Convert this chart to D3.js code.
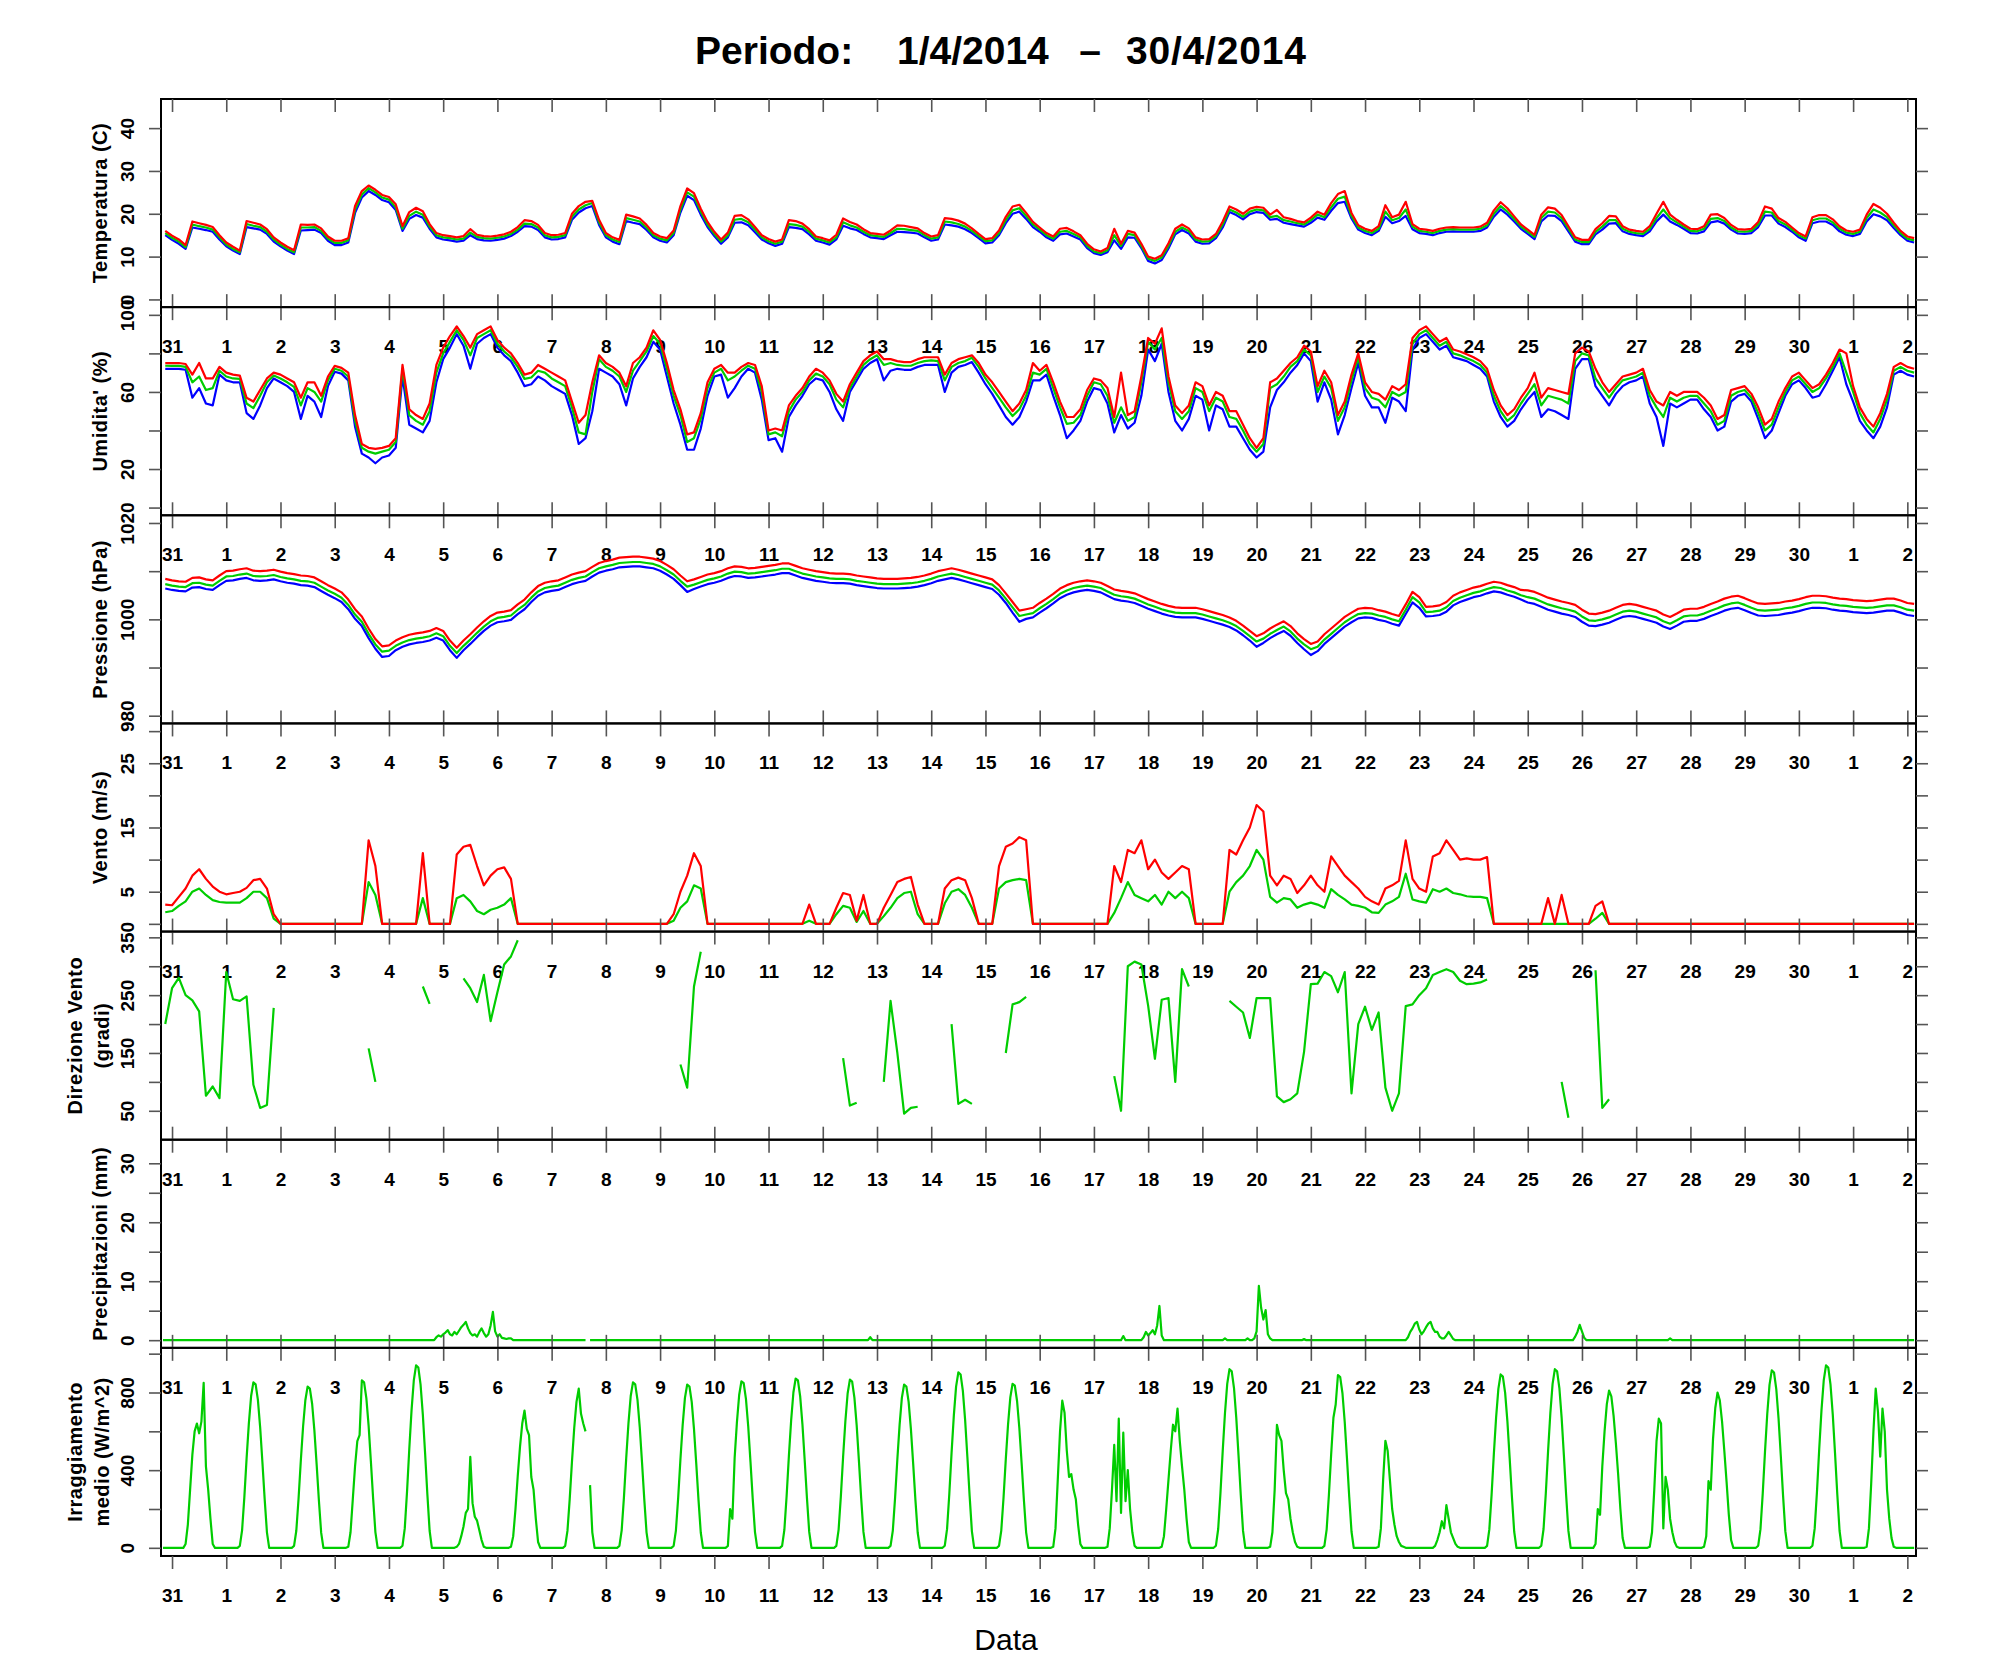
<!DOCTYPE html>
<html>
<head>
<meta charset="utf-8">
<script src="https://cdn.jsdelivr.net/npm/d3@7"></script>
<style>
  body { margin: 0; background: #fff; }
  svg { display: block; }
</style>
</head>
<body>
<div id="chart"></div>
<script>
const _ = null;

// x axis: one tick per day, 31 Mar .. 2 May
const dayLabels = ["31","1","2","3","4","5","6","7","8","9","10","11","12","13","14","15",
  "16","17","18","19","20","21","22","23","24","25","26","27","28","29","30","1","2"];

// 3-hourly series, first sample 30/3 21:00, then one row per day (00,03,...,21)
const tempMax = [16.0,
  14.9,14.0,12.7,18.2,17.8,17.4,16.9,15.0,
  13.3,12.3,11.4,18.3,17.9,17.5,16.4,14.5,
  13.3,12.3,11.5,17.5,17.4,17.5,16.6,14.7,
  13.7,13.7,14.3,21.8,25.3,26.6,25.6,24.4,
  23.9,22.2,17.1,20.4,21.4,20.6,17.6,15.5,
  15.0,14.8,14.5,14.8,16.4,15.1,14.8,14.7,
  14.9,15.2,15.8,16.9,18.5,18.3,17.4,15.5,
  15.0,15.1,15.5,20.0,21.8,22.8,23.0,18.6,
  15.5,14.5,13.9,19.8,19.4,18.9,17.4,15.5,
  14.7,14.3,16.1,21.8,25.9,24.8,21.2,18.1,
  15.8,14.0,15.6,19.5,19.7,18.7,16.9,15.0,
  14.1,13.5,14.0,18.5,18.3,17.7,16.4,14.7,
  14.3,13.8,15.1,18.9,18.1,17.5,16.4,15.5,
  15.3,15.1,16.1,17.3,17.2,16.9,16.6,15.5,
  14.7,15.0,19.0,18.8,18.4,17.7,16.6,15.3,
  14.1,14.3,16.1,19.3,21.7,22.1,20.2,18.1,
  16.8,15.5,14.7,16.5,16.7,15.9,15.0,13.0,
  11.7,11.2,12.0,16.5,13.0,16.0,15.6,13.0,
  10.0,9.5,10.3,13.1,16.5,17.5,16.6,14.5,
  14.0,14.1,15.3,18.2,21.7,21.0,20.0,21.2,
  21.6,21.4,19.8,20.9,19.2,18.8,18.3,18.0,
  19.1,20.5,19.8,22.5,24.6,25.3,20.2,17.3,
  16.5,16.0,17.1,22.0,19.2,19.8,22.8,17.6,
  16.5,16.3,16.0,16.5,16.8,16.9,16.8,16.8,
  16.8,17.0,17.9,20.8,22.7,21.3,19.4,17.5,
  16.3,15.1,19.8,21.5,21.2,19.7,17.1,14.5,
  13.9,13.9,16.4,17.8,19.5,19.4,17.1,16.3,
  16.0,15.8,17.1,20.0,22.8,19.8,18.6,17.5,
  16.5,16.4,17.1,19.8,19.9,19.0,17.4,16.4,
  16.3,16.5,18.1,21.7,21.2,19.0,18.1,16.8,
  15.5,14.7,19.2,19.7,19.7,18.7,17.1,16.1,
  15.8,16.3,19.8,22.3,21.4,20.0,17.9,16.0,
  14.7,14.3];

const tempMed = [15.5,
  14.4,13.5,12.2,17.5,17.1,16.8,16.3,14.5,
  12.8,11.8,11.0,17.6,17.2,16.9,15.8,14.0,
  12.8,11.8,11.0,16.8,16.8,16.9,16.0,14.2,
  13.2,13.2,13.8,21.0,24.5,26.0,25.0,23.8,
  23.3,21.5,16.5,19.5,20.5,19.8,17.0,15.0,
  14.5,14.3,14.0,14.2,15.6,14.6,14.3,14.2,
  14.4,14.7,15.3,16.3,17.7,17.6,16.8,15.0,
  14.5,14.6,15.0,19.3,21.0,22.0,22.5,18.0,
  15.0,14.0,13.4,19.0,18.6,18.2,16.8,15.0,
  14.2,13.8,15.5,21.0,25.0,24.0,20.5,17.5,
  15.3,13.5,15.0,18.6,18.8,18.0,16.3,14.5,
  13.6,13.0,13.5,17.6,17.4,17.0,15.8,14.2,
  13.8,13.3,14.5,18.0,17.3,16.8,15.8,15.0,
  14.8,14.6,15.5,16.5,16.4,16.2,16.0,15.0,
  14.2,14.5,18.2,18.0,17.6,17.0,16.0,14.8,
  13.6,13.8,15.5,18.5,20.8,21.3,19.5,17.5,
  16.3,15.0,14.2,15.8,16.0,15.3,14.5,12.5,
  11.2,10.8,11.5,15.0,12.5,15.3,15.0,12.5,
  9.5,9.0,9.8,12.5,15.8,16.8,16.0,14.0,
  13.5,13.6,14.8,17.5,21.0,20.3,19.3,20.5,
  21.0,20.8,19.2,19.5,18.5,18.2,17.8,17.5,
  18.5,19.8,19.2,21.5,23.5,24.0,19.5,16.8,
  16.0,15.5,16.5,20.5,18.5,19.0,21.0,17.0,
  16.0,15.8,15.5,16.0,16.3,16.4,16.3,16.3,
  16.3,16.5,17.3,20.0,21.8,20.5,18.8,17.0,
  15.8,14.6,19.0,20.5,20.3,19.0,16.5,14.0,
  13.4,13.4,15.8,17.0,18.5,18.5,16.5,15.8,
  15.5,15.3,16.5,19.0,21.0,19.0,18.0,17.0,
  16.0,15.9,16.5,18.8,19.0,18.3,16.8,15.9,
  15.8,16.0,17.5,20.5,20.3,18.3,17.5,16.3,
  15.0,14.2,18.5,18.9,18.9,18.0,16.5,15.6,
  15.3,15.8,19.0,21.0,20.3,19.2,17.3,15.5,
  14.2,13.8];

const tempMin = [15.0,
  13.9,13.0,11.8,16.8,16.5,16.2,15.8,14.0,
  12.4,11.4,10.6,16.9,16.6,16.3,15.3,13.5,
  12.4,11.4,10.6,16.1,16.2,16.3,15.5,13.7,
  12.7,12.7,13.3,20.2,23.8,25.3,24.4,23.2,
  22.7,20.9,16.0,18.8,19.7,19.1,16.5,14.5,
  14.0,13.8,13.5,13.7,15.0,14.1,13.8,13.7,
  13.9,14.2,14.8,15.8,17.1,17.0,16.2,14.5,
  14.0,14.1,14.5,18.6,20.3,21.3,21.8,17.4,
  14.5,13.5,12.9,18.3,17.9,17.6,16.2,14.5,
  13.7,13.3,15.0,20.3,24.2,23.2,19.8,16.9,
  14.8,13.0,14.5,17.9,18.0,17.3,15.7,14.0,
  13.1,12.5,13.0,16.9,16.7,16.4,15.2,13.7,
  13.3,12.8,14.0,17.2,16.6,16.2,15.3,14.5,
  14.3,14.1,15.0,15.8,15.7,15.6,15.4,14.5,
  13.7,14.0,17.5,17.3,17.0,16.4,15.5,14.3,
  13.1,13.3,15.0,17.8,20.0,20.5,18.8,16.9,
  15.8,14.5,13.7,15.2,15.4,14.7,14.0,12.0,
  10.8,10.4,11.0,13.8,11.8,14.5,14.4,12.0,
  9.0,8.4,9.2,11.9,15.2,16.2,15.4,13.5,
  13.0,13.1,14.3,16.8,20.4,19.7,18.7,19.9,
  20.4,20.2,18.6,18.8,17.9,17.6,17.3,17.0,
  17.9,19.1,18.6,20.7,22.5,22.8,18.9,16.3,
  15.5,15.0,16.0,19.3,17.8,18.3,19.5,16.4,
  15.5,15.3,15.0,15.5,15.8,15.9,15.8,15.8,
  15.8,16.0,16.8,19.3,21.0,19.8,18.2,16.5,
  15.3,14.1,18.2,19.6,19.5,18.3,15.9,13.5,
  12.9,12.9,15.2,16.3,17.7,17.8,15.9,15.3,
  15.0,14.8,15.9,18.2,19.8,18.2,17.4,16.5,
  15.5,15.4,15.9,18.0,18.3,17.7,16.3,15.4,
  15.3,15.5,16.9,19.6,19.6,17.7,16.9,15.8,
  14.5,13.7,17.8,18.2,18.2,17.4,15.9,15.1,
  14.8,15.3,18.2,19.9,19.4,18.5,16.7,15.0,
  13.7,13.3];

const humMax = [75,
  75,75,74.5,69,75,67,67,73,
  70,69,68.5,57,55,61,67,70,
  69,67,65,57,65,65,58,68,
  73.5,72.5,70,48,33,31,30.5,31,
  32,36,74,51,48,46,54,74,
  83,89,94,89,83,90,92,94,
  87,83,80,75,69,70,74,72,
  70,68,66,55,44,48,65,79,
  75,73,70,63,75,78,83,92,
  87,75,61,51,38,39,49,65,
  72,74,70,70,73,75,74,63,
  40,41,40,53,58,62,68,72,
  70,66,59,55,64,70,76,79,
  81,77,77,76,75.5,75.5,77,78,
  78,78,69,75,77,78,79,75,
  69,65,60,55,50,54,61,75,
  71,74,65,55,47,47,51,61,
  67,66,62,47,70,48,50,68,
  88,85,93,68,53,49,53,65,
  63,53,60,58,50,50,43,36,
  31,36,65,67,71,75,78,84,
  81,63,71,65,48,55,69,80,
  65,60,59,56,63,61,64,88,
  92,94,90,86,88,82,81,79.5,
  78,76,72,61,53,48,51,57,
  62,70,57,62,61,60,59,80,
  83,81,72,65,60,64,68,69,
  70,72,61,55,53,60,58,60,
  60,60,57,53,46,48,61,62,
  63,59,52,43,46,55,62,68,
  70,66,62,64,69,75,82,80,
  63,52,46,42,49,59,73,75,
  73,72];

const humMed = [73.6,
  73.5,73.5,73.0,65,68,61,62,71,
  68,67,66.8,54,51.6,58,65,68.5,
  67,65,62.6,53,62,60,55,66,
  72,71,68,45,31,29,28,29,
  30,34,72,48,45,43,50,70,
  80,86,92,87,79,88,90,92,
  85,81,78,73,66.8,67.5,71,70,
  67,65,63,52,39,38,60,77,
  73,71,68,60,71,76,81,89,
  85,72,58,48,34,36,46,62,
  70,72,66,68,71,73.6,72,60,
  38,39,37,50,56,60,66,69.5,
  68,64,56,52,62,68,74,77,
  79,74,75,74,73.6,73.6,75,76,
  76.4,76,66,73,75,76,77.7,73,
  67,62,57,52,47.5,51,58,70,
  69,72,62,52,43.4,44,48,58,
  65,64,58,44,52,45,47,65,
  86,82,88,65,50,46,50,62,
  60,50,57,55,47,46,40,33,
  29,33,62,64,68,73,76,82,
  79,60,68,62,45,52,66,78,
  62,57,55.8,52,60,58,60,85,
  90,92,88,84,86,80,79,77.5,
  76,74,70,58,50,45,48,54,
  59,64,53,58,57,56,54,76,
  80,79,67,62,57,62,66,67,
  68,70,58,52,47,57,55,57,
  58,58,54,50,43,45,58,60,
  61,57,49,40,43,52,60,66,
  68,64,60,62,67,73,80,70,
  60,49,43,39,46,56,71,73,
  71,70];

const humMin = [72,
  72,72,71.5,57,62,54,53,69,
  66,65,65,49,46,53,62,67,
  65,63,60,46,58,55,47,63,
  70.5,69.5,66,42,28,26,23,26,
  27,31,68,43,41,39,45,65,
  77,83,90,84,72,85,88,90,
  83,79,76,70,63,64,68,66,
  63,61,59,48,33,36,50,72,
  70,68,64,53,67,73,78,86,
  82,68,54,43,30,30,41,58,
  68,69,57,62,68,72,70,56,
  35,36,29,47,53,58,64,67,
  66,60,51,45,60,66,72,75,
  77,66,71,72,71.5,71.5,73,74,
  74,74,60,70,73,74,75.5,70,
  64,59,53,47,43,47,55,66,
  66,69,58,48,36,40,45,55,
  62,61,54,39,48,41,44,58,
  82,76,85,60,45,40,46,58,
  56,40,53,51,42,42,36,30,
  26,29,52,61,65,70,74,80,
  76,55,65,56,38,48,62,75,
  58,52,52,44,57,55,50,82,
  88,90,86,82,84,78,77,76,
  74,72,68,55,47,42,45,51,
  56,60,47,51,50,48,46,72,
  77,77,63,58,53,59,63,65,
  66,68,54,47,32,54,52,54,
  56,56,51,47,40,42,55,58,
  59,55,46,36,40,49,58,64,
  66,62,57,58,64,71,78,64,
  55,45,40,36,42,52,69,71,
  69,68];

const pressMax = [1008.4,
  1008.1,1007.9,1007.8,1008.6,1008.7,1008.3,1008.1,1009.1,
  1010.0,1010.1,1010.4,1010.6,1010.1,1010.0,1010.1,1010.3,
  1009.9,1009.6,1009.4,1009.1,1009.0,1008.7,1007.9,1007.1,
  1006.4,1005.6,1004.1,1002.1,1000.6,998.1,995.9,994.4,
  994.6,995.6,996.3,996.8,997.1,997.3,997.6,998.2,
  997.6,995.6,994.1,995.6,996.9,998.3,999.6,1000.7,
  1001.4,1001.6,1001.9,1003.1,1004.1,1005.6,1006.9,1007.6,
  1007.9,1008.1,1008.7,1009.3,1009.7,1010.0,1010.9,1011.7,
  1012.1,1012.4,1012.8,1012.9,1013.0,1013.0,1012.8,1012.6,
  1012.1,1011.3,1010.4,1009.1,1007.9,1008.3,1008.8,1009.3,
  1009.6,1010.0,1010.6,1011.0,1010.9,1010.6,1010.7,1010.9,
  1011.1,1011.3,1011.6,1011.6,1011.1,1010.6,1010.3,1010.0,
  1009.8,1009.6,1009.5,1009.5,1009.4,1009.1,1008.9,1008.7,
  1008.5,1008.4,1008.4,1008.4,1008.5,1008.6,1008.8,1009.1,
  1009.5,1010.0,1010.3,1010.6,1010.3,1009.9,1009.5,1009.1,
  1008.7,1008.3,1007.1,1005.4,1003.6,1001.8,1002.1,1002.4,
  1003.4,1004.3,1005.3,1006.4,1007.1,1007.6,1007.9,1008.1,
  1007.9,1007.6,1006.9,1006.2,1005.9,1005.7,1005.4,1004.8,
  1004.2,1003.7,1003.2,1002.8,1002.5,1002.4,1002.4,1002.4,
  1002.1,1001.7,1001.3,1000.9,1000.4,999.7,998.7,997.6,
  996.5,997.1,998.1,998.9,999.6,998.6,997.1,995.9,
  994.9,995.4,996.9,998.1,999.3,1000.5,1001.4,1002.2,
  1002.4,1002.3,1001.9,1001.6,1001.1,1000.7,1003.1,1005.7,
  1004.6,1002.6,1002.7,1002.9,1003.6,1004.9,1005.6,1006.1,
  1006.6,1006.9,1007.4,1007.8,1007.6,1007.1,1006.7,1006.1,
  1006.0,1005.7,1005.1,1004.5,1004.1,1003.7,1003.4,1003.0,
  1002.0,1001.2,1001.1,1001.4,1001.8,1002.4,1003.0,1003.2,
  1003.0,1002.6,1002.2,1001.8,1001.0,1000.5,1001.2,1002.0,
  1002.2,1002.2,1002.6,1003.2,1003.7,1004.3,1004.7,1004.9,
  1004.4,1003.8,1003.3,1003.2,1003.3,1003.4,1003.7,1003.9,
  1004.2,1004.6,1004.9,1004.9,1004.8,1004.5,1004.3,1004.2,
  1004.0,1003.9,1003.8,1003.9,1004.1,1004.3,1004.3,1003.9,
  1003.4,1003.2];

const pressMed = [1007.3,
  1007.0,1006.8,1006.7,1007.5,1007.6,1007.2,1007.0,1008.0,
  1008.9,1009.0,1009.3,1009.5,1009.0,1008.9,1009.0,1009.2,
  1008.8,1008.5,1008.3,1008.0,1007.9,1007.6,1006.8,1006.0,
  1005.3,1004.5,1003.0,1001.0,999.5,997.0,994.8,993.3,
  993.5,994.5,995.2,995.7,996.0,996.2,996.5,997.1,
  996.5,994.5,993.0,994.5,995.8,997.2,998.5,999.6,
  1000.3,1000.5,1000.8,1002.0,1003.0,1004.5,1005.8,1006.5,
  1006.8,1007.0,1007.6,1008.2,1008.6,1008.9,1009.8,1010.6,
  1011.0,1011.3,1011.7,1011.8,1011.9,1011.9,1011.7,1011.5,
  1011.0,1010.2,1009.3,1008.0,1006.8,1007.2,1007.7,1008.2,
  1008.5,1008.9,1009.5,1009.9,1009.8,1009.5,1009.6,1009.8,
  1010.0,1010.2,1010.5,1010.5,1010.0,1009.5,1009.2,1008.9,
  1008.7,1008.5,1008.4,1008.4,1008.3,1008.0,1007.8,1007.6,
  1007.4,1007.3,1007.3,1007.3,1007.4,1007.5,1007.7,1008.0,
  1008.4,1008.9,1009.2,1009.5,1009.2,1008.8,1008.4,1008.0,
  1007.6,1007.2,1006.0,1004.3,1002.5,1000.7,1001.0,1001.3,
  1002.3,1003.2,1004.2,1005.3,1006.0,1006.5,1006.8,1007.0,
  1006.8,1006.5,1005.8,1005.1,1004.8,1004.6,1004.3,1003.7,
  1003.1,1002.6,1002.1,1001.7,1001.4,1001.3,1001.3,1001.3,
  1001.0,1000.6,1000.2,999.8,999.3,998.6,997.6,996.5,
  995.4,996.0,997.0,997.8,998.5,997.5,996.0,994.8,
  993.8,994.3,995.8,997.0,998.2,999.4,1000.3,1001.1,
  1001.3,1001.2,1000.8,1000.5,1000.0,999.6,1002.0,1004.6,
  1003.5,1001.5,1001.6,1001.8,1002.5,1003.8,1004.5,1005.0,
  1005.5,1005.8,1006.3,1006.7,1006.5,1006.0,1005.6,1005.0,
  1004.6,1004.3,1003.7,1003.1,1002.7,1002.3,1002.0,1001.6,
  1000.6,999.8,999.7,1000.0,1000.4,1001.0,1001.6,1001.8,
  1001.6,1001.2,1000.8,1000.4,999.6,999.1,999.8,1000.6,
  1000.8,1000.8,1001.2,1001.8,1002.3,1002.9,1003.3,1003.5,
  1003.0,1002.4,1001.9,1001.8,1001.9,1002.0,1002.3,1002.5,
  1002.8,1003.2,1003.5,1003.5,1003.4,1003.1,1002.9,1002.8,
  1002.6,1002.5,1002.4,1002.5,1002.7,1002.9,1002.9,1002.5,
  1002.0,1001.8];

const pressMin = [1006.4,
  1006.1,1005.9,1005.8,1006.6,1006.7,1006.3,1006.1,1007.1,
  1008.0,1008.1,1008.4,1008.6,1008.1,1008.0,1008.1,1008.3,
  1007.9,1007.6,1007.4,1007.1,1007.0,1006.7,1005.9,1005.1,
  1004.4,1003.6,1002.1,1000.1,998.6,996.1,993.9,992.2,
  992.4,993.6,994.3,994.8,995.1,995.3,995.6,996.2,
  995.6,993.6,992.0,993.6,994.9,996.3,997.6,998.7,
  999.4,999.6,999.9,1001.1,1002.1,1003.6,1004.9,1005.6,
  1005.9,1006.1,1006.7,1007.3,1007.7,1008.0,1008.9,1009.7,
  1010.1,1010.4,1010.8,1010.9,1011.0,1011.0,1010.8,1010.6,
  1010.1,1009.3,1008.4,1007.1,1005.7,1006.3,1006.8,1007.3,
  1007.6,1008.0,1008.6,1009.0,1008.9,1008.6,1008.7,1008.9,
  1009.1,1009.3,1009.6,1009.6,1009.1,1008.6,1008.3,1008.0,
  1007.8,1007.6,1007.5,1007.5,1007.4,1007.1,1006.9,1006.7,
  1006.5,1006.4,1006.4,1006.4,1006.5,1006.6,1006.8,1007.1,
  1007.5,1008.0,1008.3,1008.6,1008.3,1007.9,1007.5,1007.1,
  1006.7,1006.3,1005.1,1003.4,1001.4,999.5,1000.1,1000.4,
  1001.4,1002.3,1003.3,1004.4,1005.1,1005.6,1005.9,1006.1,
  1005.9,1005.6,1004.9,1004.2,1003.9,1003.7,1003.4,1002.8,
  1002.2,1001.7,1001.2,1000.8,1000.5,1000.4,1000.4,1000.4,
  1000.1,999.7,999.3,998.9,998.4,997.7,996.7,995.6,
  994.3,995.1,996.1,996.9,997.6,996.6,995.1,993.8,
  992.6,993.4,994.9,996.1,997.3,998.5,999.4,1000.2,
  1000.4,1000.3,999.9,999.6,999.1,998.7,1001.1,1003.5,
  1002.4,1000.6,1000.7,1000.9,1001.6,1002.9,1003.6,1004.1,
  1004.6,1004.9,1005.4,1005.8,1005.6,1005.1,1004.7,1004.1,
  1003.5,1003.2,1002.6,1002.0,1001.6,1001.2,1000.9,1000.5,
  999.5,998.7,998.6,998.9,999.3,999.9,1000.5,1000.7,
  1000.5,1000.1,999.7,999.3,998.5,998.0,998.7,999.5,
  999.7,999.7,1000.1,1000.7,1001.2,1001.8,1002.2,1002.4,
  1001.9,1001.3,1000.8,1000.7,1000.8,1000.9,1001.2,1001.4,
  1001.7,1002.1,1002.4,1002.4,1002.3,1002.0,1001.8,1001.7,
  1001.5,1001.4,1001.3,1001.4,1001.6,1001.8,1001.8,1001.4,
  1000.9,1000.7];

const windMax = [3.0,
  2.9,4.2,5.5,7.5,8.5,7.0,5.8,5.0,
  4.6,4.8,5.0,5.6,6.8,7.0,5.5,1.5,
  0,0,0,0,0,0,0,0,
  0,0,0,0,0,13.0,9.0,0,
  0,0,0,0,0,11.0,0,0,
  0,0,10.8,12.0,12.3,9.0,6.0,7.5,
  8.5,8.8,7.0,0,0,0,0,0,
  0,0,0,0,0,0,0,0,
  0,0,0,0,0,0,0,0,
  0,0,1.5,5.0,7.5,11.0,9.0,0,
  0,0,0,0,0,0,0,0,
  0,0,0,0,0,0,3.0,0,
  0,0,2.5,4.8,4.5,0.5,4.5,0,
  0,2.5,4.5,6.5,7.0,7.3,3.0,0,
  0,0,5.5,6.8,7.2,6.8,4.0,0,
  0,0,9.0,12.0,12.5,13.5,13.0,0,
  0,0,0,0,0,0,0,0,
  0,0,0,9.0,6.5,11.5,11.0,13.0,
  8.5,10.0,8.0,7.0,8.0,9.0,8.5,0,
  0,0,0,0,11.5,10.8,13.0,15.0,
  18.5,17.5,7.5,6.0,7.5,7.0,4.8,6.0,
  7.5,6.0,5.0,10.5,9.0,7.5,6.5,5.5,
  4.2,3.5,3.0,5.5,6.0,6.7,13.0,7.0,
  5.5,5.0,10.5,11.0,13.0,11.5,10.0,10.2,
  10.0,10.0,10.4,0,0,0,0,0,
  0,0,0,4.0,0,4.5,0,0,
  0,0,2.8,3.5,0,0,0,0,
  0,0,0,0,0,0,0,0,
  0,0,0,0,0,0,0,0,
  0,0,0,0,0,0,0,0,
  0,0,0,0,0,0,0,0,
  0,0,0,0,0,0,0,0,
  0,0];

const windMed = [1.8,
  2.0,2.8,3.5,5.0,5.5,4.5,3.7,3.4,
  3.3,3.3,3.3,4.0,5.0,5.0,4.0,0.8,
  0,0,0,0,0,0,0,0,
  0,0,0,0,0,6.5,4.5,0,
  0,0,0,0,0,4.0,0,0,
  0,0,4.0,4.5,3.5,2.0,1.5,2.2,
  2.5,3.0,4.0,0,0,0,0,0,
  0,0,0,0,0,0,0,0,
  0,0,0,0,0,0,0,0,
  0,0,0.5,2.5,3.5,6.0,5.5,0,
  0,0,0,0,0,0,0,0,
  0,0,0,0,0,0,0.5,0,
  0,0,1.5,2.8,2.5,0.3,2.0,0,
  0,1.2,2.5,4.0,4.8,5.0,1.5,0,
  0,0,3.2,5.0,5.4,4.5,2.5,0,
  0,0,5.5,6.5,6.8,7.0,6.8,0,
  0,0,0,0,0,0,0,0,
  0,0,0,1.7,4.0,6.5,4.5,4.0,
  3.5,4.5,3.0,5.0,4.0,5.0,4.0,0,
  0,0,0,0,5.0,6.5,7.5,9.0,
  11.5,10.0,4.2,3.3,4.0,3.8,2.5,3.0,
  3.3,3.0,2.5,5.4,4.5,3.8,3.0,2.8,
  2.5,1.8,1.7,3.0,3.5,4.2,7.8,3.8,
  3.5,3.3,5.4,5.0,5.5,4.8,4.6,4.3,
  4.2,4.2,4.0,0,0,0,0,0,
  0,0,0,0,0,0,0,0,
  0,0,0.8,1.7,0,0,0,0,
  0,0,0,0,0,0,0,0,
  0,0,0,0,0,0,0,0,
  0,0,0,0,0,0,0,0,
  0,0,0,0,0,0,0,0,
  0,0,0,0,0,0,0,0,
  0,0];

// wind direction, missing when there is no wind
const windDir = [200,
  262,280,250,241,222,76,92,72,
  290,243,240,248,95,55,60,228,
  _,_,_,_,_,_,_,_,
  _,_,_,_,_,158,100,_,
  _,_,_,_,_,265,235,_,
  _,_,_,279,262,238,285,205,
  255,303,317,345,_,_,_,_,
  _,_,_,_,_,_,_,_,
  _,_,_,_,_,_,_,_,
  _,_,_,130,90,265,325,_,
  _,_,_,_,_,_,_,_,
  _,_,_,_,_,_,_,_,
  _,_,_,141,59,64,_,_,
  _,100,240,150,45,55,57,_,
  _,_,_,200,62,69,62,_,
  _,_,_,150,234,238,247,_,
  _,_,_,_,_,_,_,_,
  _,_,_,110,50,300,308,303,
  232,140,242,245,100,295,265,_,
  _,_,_,_,240,230,220,176,
  245,245,245,75,65,70,80,152,
  269,270,290,283,255,290,80,200,
  230,190,220,90,50,80,231,234,
  250,262,285,290,295,290,275,269,
  270,272,277,_,_,_,_,_,
  _,_,_,_,_,100,38,_,
  _,_,293,55,70,_,_,_,
  _,_,_,_,_,_,_,_,
  _,_,_,_,_,_,_,_,
  _,_,_,_,_,_,_,_,
  _,_,_,_,_,_,_,_,
  _,_,_,_,_,_,_,_,
  _,_];

// rain: hours counted from 31/3 00:00, zero elsewhere
const rainHour = [117,118,119,120,121,122,123,124,125,126,127,128,129,130,131,132,133,134,135,136,
  137,138,139,140,141,142,143,144,145,146,147,148,149,150,
  309, 421,
  430,431,432,433,434,435,436,437,438,
  466, 476,
  479,480,481,482,483,484,485,486,
  501,
  547,548,549,550,551,552,553,554,555,556,557,558,559,560,561,562,563,564,565,566,567,
  621,622,623,624,625,
  663];
const rainMm = [0.5,0.8,0.6,1.0,1.3,1.7,1.0,0.8,1.4,1.0,1.6,2.2,2.6,3.1,2.0,1.2,0.8,1.0,0.6,1.4,
  2.0,1.2,0.6,1.0,2.5,4.8,1.5,0.6,1.0,0.4,0.3,0.2,0.3,0.3,
  0.5, 0.7,
  0.5,1.4,0.8,1.2,1.7,1.0,2.5,5.8,0.8,
  0.3, 0.3,
  0.3,1.5,9.2,5.5,3.5,5.1,1.0,0.3,
  0.2,
  0.5,1.4,2.0,2.8,3.1,1.8,1.0,1.5,2.2,2.8,3.1,2.0,1.4,1.4,0.6,0.3,0.3,0.8,1.4,0.8,0.2,
  0.6,1.4,2.6,1.5,0.4,
  0.3];

// mean irradiance, hourly from 05:00 to 19:00 of each day (31/3 .. 1/5), zero at night
const irrFirstHour = 5;
const irrDays = [
  [0,20,120,300,480,600,640,590,650,850,420,300,150,20,0],
  [0,10,90,260,461,641,782,852,842,762,621,441,251,80,0],
  [0,10,88,254,450,625,760,830,820,742,605,430,244,78,0],
  [0,5,80,250,420,550,580,862,852,771,629,446,254,81,0],
  [0,11,100,288,509,708,862,940,929,840,686,487,276,88,0],
  [0,5,20,60,110,180,200,468,230,160,140,90,40,5,0],
  [0,5,60,200,370,520,640,707,613,580,365,300,150,30,0],
  [0,10,87,251,444,617,752,820,690,640,600,450,323,80,0],
  [0,10,90,260,461,641,782,852,842,762,621,441,251,80,0],
  [0,10,89,257,455,633,772,841,831,752,613,435,247,79,0],
  [0,10,200,150,464,646,787,858,848,767,626,444,252,81,0],
  [0,10,92,267,472,656,800,872,862,780,636,451,256,82,0],
  [0,10,92,265,469,652,795,866,856,774,632,448,255,82,0],
  [0,10,89,257,455,633,772,841,831,752,613,435,247,79,0],
  [0,11,96,277,489,681,830,904,893,808,659,468,266,85,0],
  [0,10,89,258,457,636,775,845,835,755,616,437,249,80,0],
  [0,5,100,350,600,758,696,500,365,380,300,250,120,20,0],
  [0,5,100,300,530,240,665,180,593,240,400,200,80,10,0],
  [0,5,60,200,350,500,634,600,717,550,420,300,150,30,0],
  [0,11,97,281,498,693,844,920,909,823,671,476,271,87,0],
  [0,5,80,300,634,580,551,400,282,250,150,80,30,5,0],
  [0,10,94,272,482,670,738,890,879,796,649,461,262,84,0],
  [0,5,100,350,551,500,350,200,120,60,30,10,5,0,0],
  [0,0,10,40,80,137,100,220,150,80,50,20,5,0,0],
  [0,10,95,273,483,672,819,893,882,798,651,462,263,84,0],
  [0,11,97,281,498,693,844,920,909,823,671,476,271,87,0],
  [0,20,200,170,420,600,740,810,780,680,540,380,200,50,0],
  [0,5,80,300,550,665,640,100,365,300,150,80,30,5,0],
  [0,5,60,344,300,560,720,800,760,650,500,340,170,40,0],
  [0,11,96,279,494,689,839,914,903,817,666,473,269,86,0],
  [0,11,100,288,509,708,862,940,929,840,686,487,276,88,0],
  [0,5,100,330,600,820,700,470,717,600,300,150,50,5,0]
];
// hour with no record in the hourly series
const gapHours = [184];

// y axis ticks and the ones carrying a label
const tempTicks = [0,10,20,30,40],          tempShown = [0,10,20,30,40];
const humTicks = [0,20,40,60,80,100],       humShown = [20,60,100];
const pressTicks = [980,990,1000,1010,1020], pressShown = [980,1000,1020];
const windTicks = [0,5,10,15,20,25,30],     windShown = [5,15,25];
const dirTicks = [50,100,150,200,250,300,350], dirShown = [50,150,250,350];
const rainTicks = [0,5,10,15,20,25,30],     rainShown = [0,10,20,30];
const irrTicks = [0,200,400,600,800,1000],  irrShown = [0,400,800];

// ---- layout ----
const W = 1991, H = 1680;
const FONT = "'Liberation Sans', Arial, Helvetica, sans-serif";
const RED = "#ff0000", GREEN = "#00cd00", BLUE = "#0000ff", TICK = "#555";
const plotLeft = 161, plotRight = 1916, plotTop = 99, panelH = 208.14;
const HOUR = 3600 * 1000;
const day0 = Date.UTC(2014, 2, 31);
const start3h = Date.UTC(2014, 2, 30, 21);

function every3h(values) {
    return values.map((v, i) => ({ t: new Date(start3h + i * 3 * HOUR), v: v }));
}

function hourly(valueAt) {
    return d3.range(-4, 772).map(h => ({
        t: new Date(day0 + h * HOUR),
        v: gapHours.includes(h) ? null : valueAt(h)
    }));
}

const rainSeries = hourly(h => {
    let i = rainHour.indexOf(h);
    return i >= 0 ? rainMm[i] : 0;
});

const irrSeries = hourly(h => {
    let day = Math.floor(h / 24), row = irrDays[day];
    if (!row) return 0;
    let j = h - day * 24 - irrFirstHour;
    return (j >= 0 && j < row.length) ? row[j] : 0;
});

const panels = [
    { title: ["Temperatura (C)"], domain: [-1.8, 46.8], ticks: tempTicks, shown: tempShown,
      lines: [[every3h(tempMin), BLUE], [every3h(tempMed), GREEN], [every3h(tempMax), RED]] },
    { title: ["Umidita' (%)"], domain: [-4, 104], ticks: humTicks, shown: humShown,
      lines: [[every3h(humMin), BLUE], [every3h(humMed), GREEN], [every3h(humMax), RED]] },
    { title: ["Pressione (hPa)"], domain: [978.4, 1021.6], ticks: pressTicks, shown: pressShown,
      lines: [[every3h(pressMin), BLUE], [every3h(pressMed), GREEN], [every3h(pressMax), RED]] },
    { title: ["Vento (m/s)"], domain: [-1.2, 31.2], ticks: windTicks, shown: windShown,
      lines: [[every3h(windMed), GREEN], [every3h(windMax), RED]] },
    { title: ["Direzione Vento", "(gradi)"], domain: [0, 360], ticks: dirTicks, shown: dirShown,
      lines: [[every3h(windDir), GREEN]] },
    { title: ["Precipitazioni (mm)"], domain: [-1.3, 34], ticks: rainTicks, shown: rainShown,
      lines: [[rainSeries, GREEN]] },
    { title: ["Irraggiamento", "medio (W/m^2)"], domain: [-42, 1030], ticks: irrTicks, shown: irrShown,
      lines: [[irrSeries, GREEN]] }
];

const svg = d3.select("#chart")
    .append("svg")
    .attr("width", W)
    .attr("height", H)
    .attr("viewBox", [0, 0, W, H].join(" "))
    .style("font-family", FONT);

svg.append("rect").attr("width", W).attr("height", H).attr("fill", "#fff");

// day ticks are ~54.2 px apart, box starts ~4.9 h before 31/3
const x = d3.scaleUtc()
    .domain([new Date(Date.UTC(2014, 2, 30, 19, 7)), new Date(Date.UTC(2014, 4, 2, 3, 50))])
    .range([plotLeft, plotRight]);

const tickDates = d3.utcDay.range(new Date(day0), new Date(Date.UTC(2014, 4, 2, 1)));

function styleTicks(axis) {
    axis.select(".domain").remove();
    axis.selectAll(".tick line")
        .attr("stroke", TICK)
        .attr("stroke-width", 1.6);
}

panels.forEach((p, k) => {
    let top = plotTop + k * panelH,
        bottom = top + panelH,
        last = k === panels.length - 1;

    let y = d3.scaleLinear().domain(p.domain).range([bottom, top]);
    let g = svg.append("g");

    let line = d3.line()
        .defined(d => d.v != null)
        .x(d => x(d.t))
        .y(d => y(d.v));

    p.lines.forEach(([data, color]) => {
        g.append("path")
            .datum(data)
            .attr("fill", "none")
            .attr("stroke", color)
            .attr("stroke-width", 2.2)
            .attr("stroke-linejoin", "round")
            .attr("d", line);
    });

    // box
    g.append("rect")
        .attr("x", plotLeft)
        .attr("y", top)
        .attr("width", plotRight - plotLeft)
        .attr("height", panelH)
        .attr("fill", "none")
        .attr("stroke", "#000")
        .attr("stroke-width", 2);

    // left axis, vertical labels
    let yl = g.append("g")
        .attr("transform", "translate(" + plotLeft + ",0)")
        .call(d3.axisLeft(y).tickValues(p.ticks).tickSize(12)
            .tickFormat(d => p.shown.includes(d) ? d : ""));
    styleTicks(yl);
    yl.selectAll("text")
        .attr("x", null)
        .attr("dy", null)
        .attr("fill", "#000")
        .attr("text-anchor", "middle")
        .attr("dominant-baseline", "central")
        .attr("transform", "translate(-34,0) rotate(-90)")
        .style("font-family", FONT)
        .style("font-size", "19px")
        .style("font-weight", "bold");

    // right axis, ticks only
    let yr = g.append("g")
        .attr("transform", "translate(" + plotRight + ",0)")
        .call(d3.axisRight(y).tickValues(p.ticks).tickSize(12).tickFormat(""));
    styleTicks(yr);

    // top ticks of the first box
    if (k === 0) {
        let xt = g.append("g")
            .attr("transform", "translate(0," + top + ")")
            .call(d3.axisBottom(x).tickValues(tickDates).tickSize(13).tickFormat(""));
        styleTicks(xt);
    }

    // bottom ticks and day numbers
    let xb = g.append("g")
        .attr("transform", "translate(0," + bottom + ")")
        .call(d3.axisBottom(x).tickValues(tickDates).tickSize(13)
            .tickFormat((d, i) => dayLabels[i]));
    styleTicks(xb);
    xb.selectAll(".tick line").attr("y1", last ? 0 : -13);
    xb.selectAll("text")
        .attr("y", 39.5)
        .attr("dy", null)
        .attr("fill", "#000")
        .attr("dominant-baseline", "central")
        .style("font-family", FONT)
        .style("font-size", "19px")
        .style("font-weight", "bold");

    // axis title
    let titleX = p.title.length === 1 ? [100] : [75, 102];
    p.title.forEach((t, i) => {
        svg.append("text")
            .attr("transform", "translate(" + titleX[i] + "," + (top + panelH / 2) + ") rotate(-90)")
            .attr("text-anchor", "middle")
            .attr("dominant-baseline", "central")
            .style("font-size", "20px")
            .style("font-weight", "bold")
            .style("letter-spacing", "0.5px")
            .text(t);
    });
});

// main title
let title = svg.append("g")
    .style("font-size", "39px")
    .style("font-weight", "bold");
title.append("text").attr("x", 695).attr("y", 64).text("Periodo:");
title.append("text").attr("x", 897).attr("y", 64).text("1/4/2014");
title.append("text").attr("x", 1090).attr("y", 64).attr("text-anchor", "middle").text("\u2013");
title.append("text").attr("x", 1126).attr("y", 64).style("letter-spacing", "0.8px").text("30/4/2014");

// x axis title
svg.append("text")
    .attr("x", 1006)
    .attr("y", 1650)
    .attr("text-anchor", "middle")
    .style("font-size", "30px")
    .text("Data");
</script>
</body>
</html>
